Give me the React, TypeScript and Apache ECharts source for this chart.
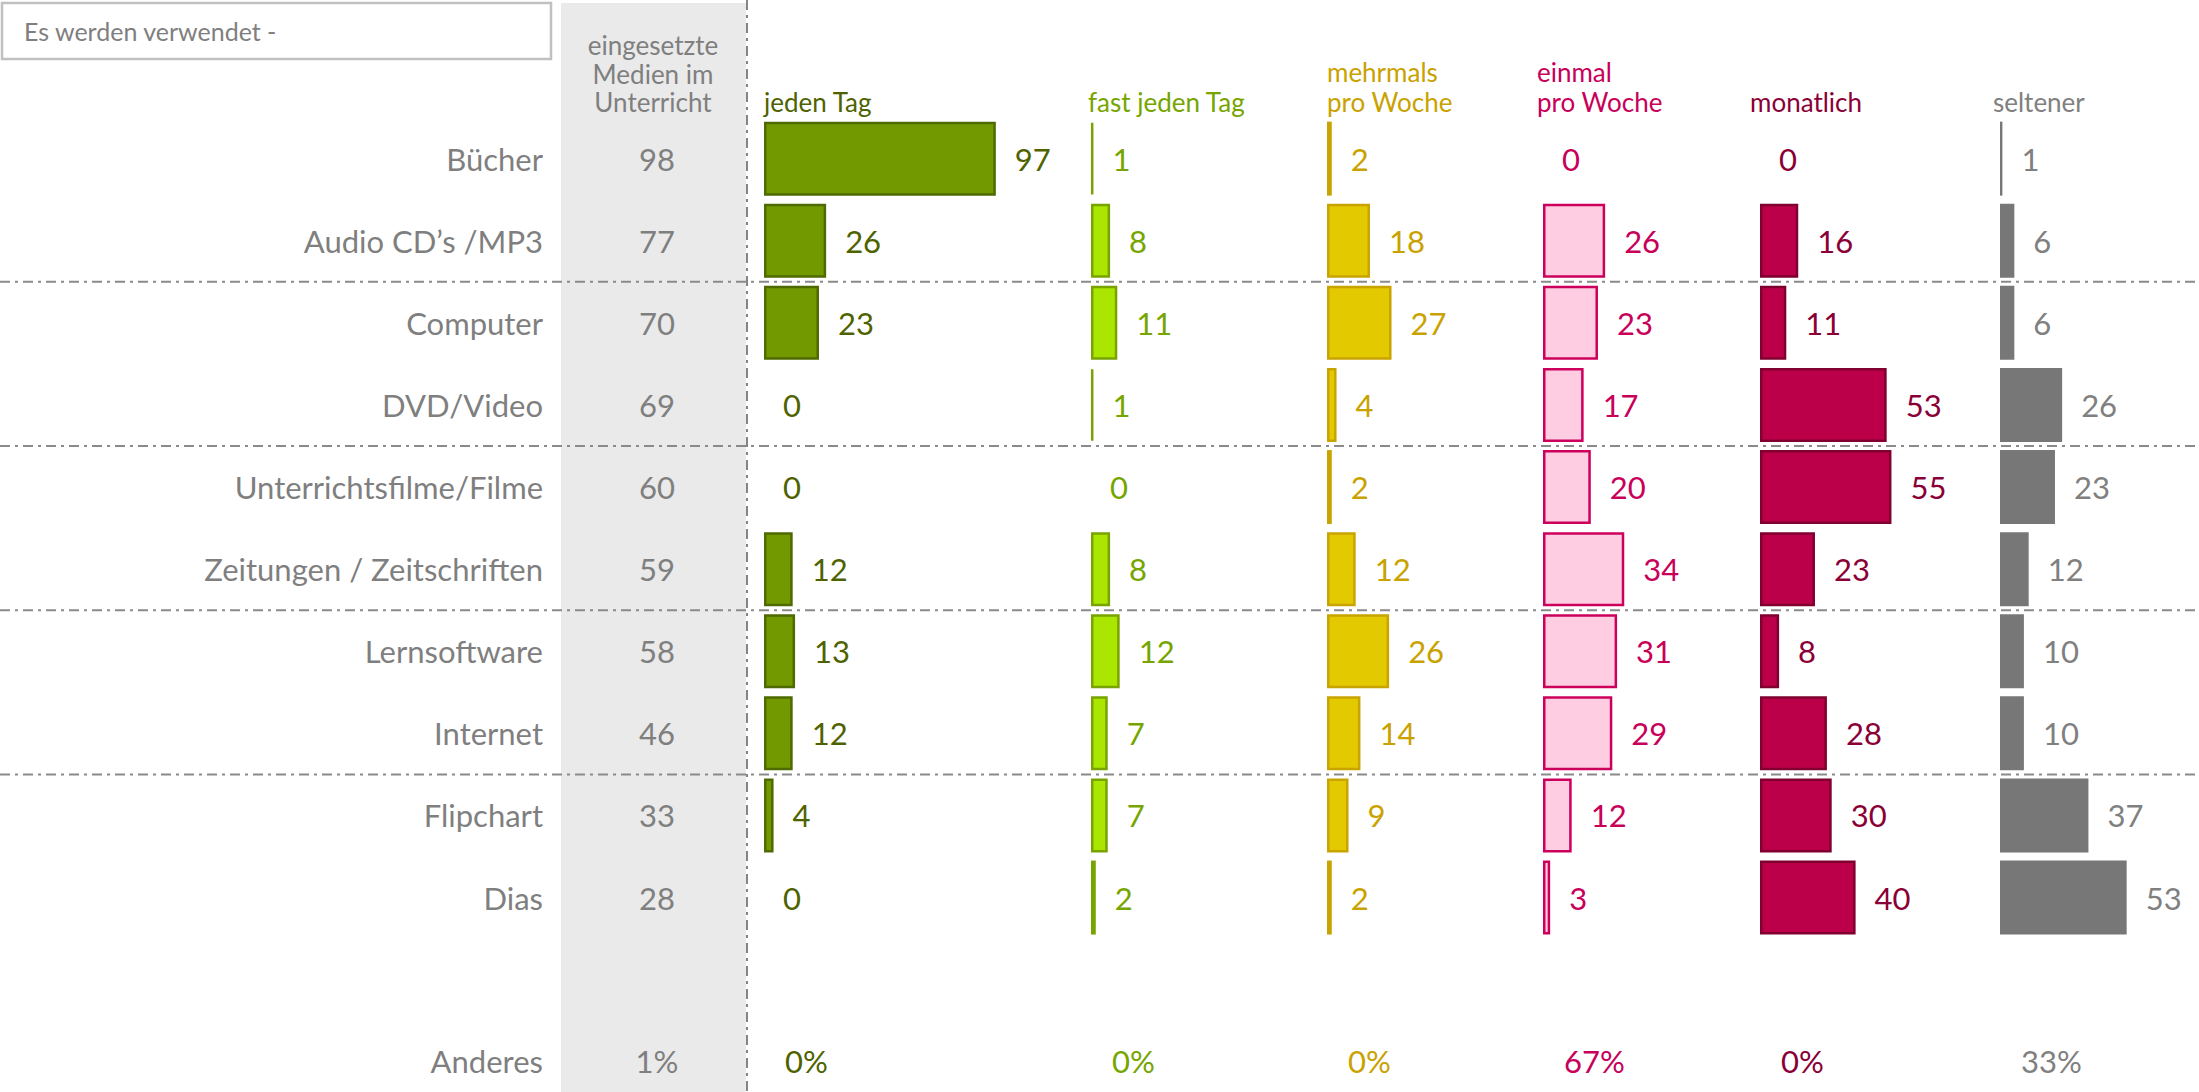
import React, { useEffect, useRef } from "react";
import * as echarts from "echarts";

// ---------- data ----------
const categories = [
  "Bücher",
  "Audio CD’s /MP3",
  "Computer",
  "DVD/Video",
  "Unterrichtsfilme/Filme",
  "Zeitungen / Zeitschriften",
  "Lernsoftware",
  "Internet",
  "Flipchart",
  "Dias",
];
const usedInClass = [98, 77, 70, 69, 60, 59, 58, 46, 33, 28];

const frequencyHeaders = [
  ["jeden Tag"],
  ["fast jeden Tag"],
  ["mehrmals", "pro Woche"],
  ["einmal", "pro Woche"],
  ["monatlich"],
  ["seltener"],
];
const everyDay = [97, 26, 23, 0, 0, 12, 13, 12, 4, 0];
const almostEveryDay = [1, 8, 11, 1, 0, 8, 12, 7, 7, 2];
const severalPerWeek = [2, 18, 27, 4, 2, 12, 26, 14, 9, 2];
const oncePerWeek = [0, 26, 23, 17, 20, 34, 31, 29, 12, 3];
const monthly = [0, 16, 11, 53, 55, 23, 8, 28, 30, 40];
const rarer = [1, 6, 6, 26, 23, 12, 10, 10, 37, 53];
const seriesValues = [everyDay, almostEveryDay, severalPerWeek, oncePerWeek, monthly, rarer];

const otherLabel = "Anderes";
const otherUsed = 1;
const otherFrequency = [0, 0, 0, 67, 0, 33];

const boxTitle = "Es werden verwendet -";
const usedHeader = ["eingesetzte", "Medien im", "Unterricht"];

// ---------- styles / layout ----------
const W = 2199;
const H = 1092;
const FONT = "Lato";
const GREY_TEXT = "#7f7f7f";
const COL_X = [764, 1091, 1327, 1543, 1760, 2000];
const HEAD_X = [764, 1088, 1327, 1537, 1750, 1993];
const PX_PER_UNIT = 2.39;
const GRID_TOP = 117.6;
const BAND = 82.1;
const FILL = ["#729a00", "#aae600", "#e2c900", "#ffcde1", "#bb0049", "#777777"];
const BORDER = ["#4e6a00", "#78a300", "#c9a400", "#cc005c", "#80002f", "#777777"];
const LABEL = ["#4e6300", "#76a500", "#c9a200", "#c8005a", "#8a0036", "#808080"];
const USED_X = 657;
const LABEL_RIGHT = 543;
const OTHER_Y = 1061;

export default function App() {
  const ref = useRef<HTMLDivElement>(null);

  useEffect(() => {
    document.body.style.margin = "0";
    const chart = echarts.init(ref.current!, null, { renderer: "svg" });

    const gridW = COL_X.map((x) => Math.min(239, W - x - 1));
    const grids = COL_X.map((x, i) => ({
      left: x,
      top: GRID_TOP,
      width: gridW[i],
      height: BAND * categories.length,
    }));
    const xAxes = COL_X.map((_, i) => ({
      type: "value",
      gridIndex: i,
      min: 0,
      max: gridW[i] / PX_PER_UNIT,
      show: false,
    }));
    const yAxes: any[] = COL_X.map((_, i) => ({
      type: "category",
      gridIndex: i,
      data: categories,
      inverse: true,
      position: "left",
      show: i === 0,
      axisLine: { show: false },
      axisTick: { show: false },
      splitLine: { show: false },
      axisLabel: {
        show: i === 0,
        margin: COL_X[0] - LABEL_RIGHT,
        color: GREY_TEXT,
        fontSize: 31,
        fontFamily: FONT,
      },
    }));
    yAxes.push({
      type: "category",
      gridIndex: 0,
      data: usedInClass.map(String),
      inverse: true,
      position: "left",
      offset: COL_X[0] - USED_X,
      axisLine: { show: false },
      axisTick: { show: false },
      splitLine: { show: false },
      axisLabel: {
        margin: 0,
        align: "center",
        color: GREY_TEXT,
        fontSize: 31,
        fontFamily: FONT,
      },
    });

    const series = seriesValues.map((vals, i) => ({
      type: "bar",
      xAxisIndex: i,
      yAxisIndex: i,
      barWidth: 74,
      silent: true,
      itemStyle: { color: FILL[i], borderColor: BORDER[i], borderWidth: i === 5 ? 0 : 2.5 },
      label: {
        show: true,
        position: "right",
        distance: 19,
        color: LABEL[i],
        fontSize: 31,
        fontFamily: FONT,
        formatter: "{c}",
      },
      data: vals.map((v) => (v === 0 ? { value: v, itemStyle: { borderWidth: 0 } } : v)),
    }));

    const graphics: any[] = [];
    graphics.push({
      type: "rect",
      z: -10,
      shape: { x: 561, y: 3, width: 185, height: H - 3 },
      style: { fill: "#eaeaea" },
    });
    graphics.push({
      type: "rect",
      z: 1,
      shape: { x: 2, y: 3, width: 549, height: 56 },
      style: { fill: "#ffffff", stroke: "#c0c0c0", lineWidth: 2.5 },
    });
    graphics.push({
      type: "text",
      z: 2,
      x: 24,
      y: 31,
      style: {
        text: boxTitle,
        fill: GREY_TEXT,
        font: `25px ${FONT}`,
        verticalAlign: "middle",
        align: "left",
      },
    });
    usedHeader.forEach((t, j) => {
      graphics.push({
        type: "text",
        z: 2,
        x: 653,
        y: 45 + j * 28.5,
        style: { text: t, fill: GREY_TEXT, font: `26px ${FONT}`, align: "center", verticalAlign: "middle" },
      });
    });
    frequencyHeaders.forEach((lines, i) => {
      lines.forEach((t, j) => {
        const y = 102 - (lines.length - 1 - j) * 30;
        graphics.push({
          type: "text",
          z: 2,
          x: HEAD_X[i],
          y,
          style: { text: t, fill: LABEL[i], font: `26px ${FONT}`, align: "left", verticalAlign: "middle" },
        });
      });
    });
    graphics.push({
      type: "line",
      z: 3,
      shape: { x1: 747, y1: 0, x2: 747, y2: H },
      style: { stroke: "#858585", lineWidth: 2, lineDash: [10, 5, 3, 5] },
    });
    [2, 4, 6, 8].forEach((k) => {
      const y = GRID_TOP + BAND * k;
      graphics.push({
        type: "line",
        z: 3,
        shape: { x1: 0, y1: y, x2: W, y2: y },
        style: { stroke: "#8a8a8a", lineWidth: 2, lineDash: [10, 5, 3, 5] },
      });
    });
    graphics.push({
      type: "text",
      z: 2,
      x: LABEL_RIGHT,
      y: OTHER_Y,
      style: { text: otherLabel, fill: GREY_TEXT, font: `31px ${FONT}`, align: "right", verticalAlign: "middle" },
    });
    graphics.push({
      type: "text",
      z: 2,
      x: USED_X,
      y: OTHER_Y,
      style: { text: `${otherUsed}%`, fill: GREY_TEXT, font: `31px ${FONT}`, align: "center", verticalAlign: "middle" },
    });
    otherFrequency.forEach((v, i) => {
      graphics.push({
        type: "text",
        z: 2,
        x: COL_X[i] + 21,
        y: OTHER_Y,
        style: { text: `${v}%`, fill: LABEL[i], font: `31px ${FONT}`, align: "left", verticalAlign: "middle" },
      });
    });

    chart.setOption({
      animation: false,
      backgroundColor: "#ffffff",
      textStyle: { fontFamily: FONT },
      grid: grids,
      xAxis: xAxes,
      yAxis: yAxes,
      series,
      graphic: graphics,
    });

    return () => chart.dispose();
  }, []);

  return <div ref={ref} style={{ width: W, height: H }} />;
}
